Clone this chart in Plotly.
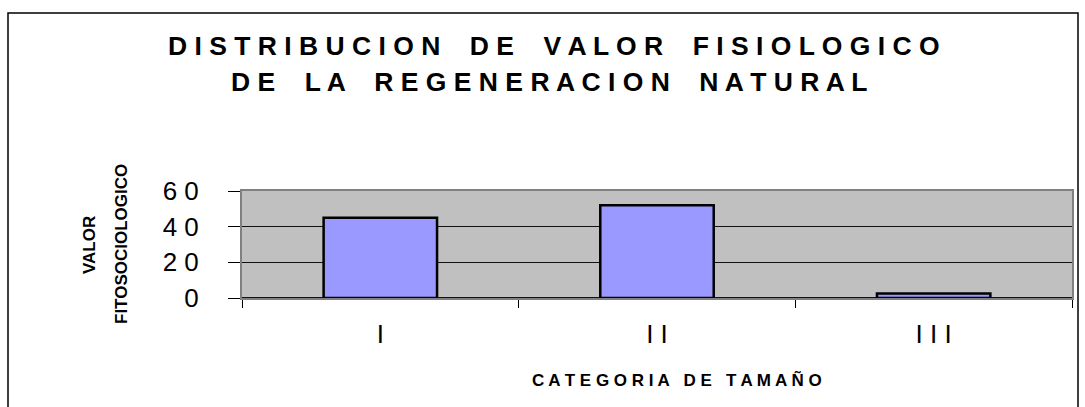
import plotly.graph_objects as go

# Chart data
categorias = ["I", "II", "III"]
etiquetas_x = ["I", "I I", "I I I"]
valores = [45, 52, 2.5]
y_ticks = [0, 20, 40, 60]
y_tick_text = ["0", "2 0", "4 0", "6 0"]

titulo_1 = "DISTRIBUCION DE VALOR FISIOLOGICO"
titulo_2 = "DE LA REGENERACION NATURAL"
titulo_x = "CATEGORIA DE TAMAÑO"


def espaciar(texto, hueco="   "):
    # spread letters apart, wider gap between words
    return hueco.join(" ".join(p) for p in texto.split(" "))


W, H = 1085, 407
L, R, T, B = 242, 13, 191, 109
pw = W - L - R
ph = H - T - B


def px_x(x):
    return (x - L) / pw


def px_y(y):
    return (H - B - y) / ph


fig = go.Figure()
fig.add_trace(go.Bar(
    x=categorias,
    y=valores,
    marker=dict(color="#9999FF", line=dict(color="#000000", width=2.5)),
    width=0.41,
    hoverinfo="x+y",
))

fig.update_layout(
    width=W,
    height=H,
    margin=dict(l=L, r=R, t=T, b=B, pad=0),
    paper_bgcolor="white",
    plot_bgcolor="#C0C0C0",
    showlegend=False,
    font=dict(family="Liberation Sans, Arial, sans-serif", color="#000000"),
    xaxis=dict(
        type="category",
        tickson="boundaries",
        ticks="outside",
        ticklen=8,
        tickcolor="#000000",
        tickwidth=1,
        tickvals=categorias,
        ticktext=etiquetas_x,
        tickfont=dict(size=26),
        ticklabelstandoff=12,
        showgrid=False,
        showline=True,
        linecolor="#808080",
        linewidth=2,
        mirror=True,
        range=[-0.5, 2.5],
    ),
    yaxis=dict(
        range=[0, 60],
        tickvals=y_ticks,
        ticktext=y_tick_text,
        tickfont=dict(size=26),
        ticks="outside",
        ticklen=12,
        tickcolor="#000000",
        tickwidth=1,
        ticklabelstandoff=24,
        showgrid=True,
        gridcolor="#111111",
        gridwidth=1,
        zeroline=True,
        zerolinecolor="#111111",
        zerolinewidth=1.5,
        showline=True,
        linecolor="#808080",
        linewidth=2,
        mirror=True,
    ),
)

# two-line bold title
fig.add_annotation(
    x=px_x(554), y=px_y(46), xref="paper", yref="paper",
    text="<b>" + espaciar(titulo_1, "    ") + "</b>",
    showarrow=False, font=dict(size=26.5), xanchor="center", yanchor="middle",
)
fig.add_annotation(
    x=px_x(549), y=px_y(82), xref="paper", yref="paper",
    text="<b>" + espaciar(titulo_2, "    ") + "</b>",
    showarrow=False, font=dict(size=26.5), xanchor="center", yanchor="middle",
)

# axis titles
fig.add_annotation(
    x=px_x(677), y=px_y(380), xref="paper", yref="paper",
    text="<b>" + espaciar(titulo_x) + "</b>",
    showarrow=False, font=dict(size=17), xanchor="center", yanchor="middle",
)
fig.add_annotation(
    x=px_x(89), y=px_y(245), xref="paper", yref="paper",
    text="<b>VALOR</b>",
    showarrow=False, font=dict(size=17), textangle=-90,
    xanchor="center", yanchor="middle",
)
fig.add_annotation(
    x=px_x(121), y=px_y(244), xref="paper", yref="paper",
    text="<b>FITOSOCIOLOGICO</b>",
    showarrow=False, font=dict(size=17), textangle=-90,
    xanchor="center", yanchor="middle",
)

# outer chart frame
fig.add_shape(type="rect", xref="paper", yref="paper",
              x0=px_x(8), x1=px_x(1078), y0=px_y(440), y1=px_y(13),
              line=dict(color="#000000", width=1.5), fillcolor="rgba(0,0,0,0)",
              layer="above")

fig.write_html("out.html")
